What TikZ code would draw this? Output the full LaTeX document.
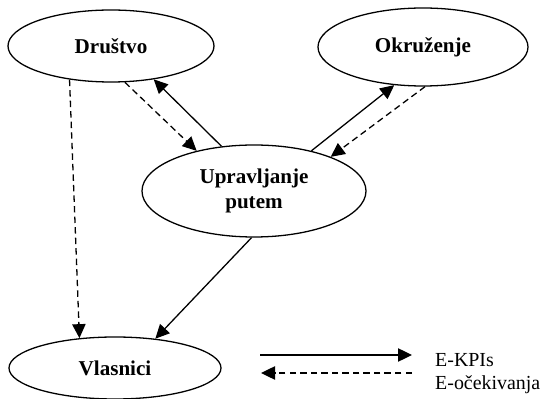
\documentclass[tikz,border=0pt]{standalone}
\usepackage{fontspec}
\setmainfont{Liberation Serif}
\usetikzlibrary{shapes.geometric,arrows.meta}

\tikzset{
  actor/.style={ellipse, draw, line width=1.1pt, inner sep=0pt, font=\fontsize{18}{21}\selectfont\bfseries, align=center},
  kpi/.style={line width=1.1pt, -{Triangle[length=4.2mm,width=4mm]}},
  expect/.style={kpi, dash pattern=on 5.5pt off 3.5pt},
  legendtext/.style={anchor=base west, inner sep=0pt, font=\fontsize{17}{20}\selectfont}
}

\begin{document}
\begin{tikzpicture}[x=0.03cm,y=-0.03cm]
\useasboundingbox (0,0) rectangle (551,399);

\node [actor, minimum width=6.18cm, minimum height=2.16cm] (drustvo) at (111,46) {Društvo};
\node [actor, minimum width=6.3cm, minimum height=2.34cm] (okruzenje) at (423,47) {Okruženje};
\node [actor, minimum width=6.72cm, minimum height=2.76cm] (upravljanje) at (254,191) {Upravljanje\\putem};
\node [actor, minimum width=6.36cm, minimum height=1.86cm] (vlasnici) at (115,368) {Vlasnici};

% E-KPIs
\draw [kpi] (upravljanje.126) -- (drustvo.-38);
\draw [kpi] (upravljanje.35) -- (okruzenje.-127);
\draw [kpi] (upravljanje.-93) -- (vlasnici.36);

% E-ocekivanja
\draw [expect] (drustvo.-69) -- (upravljanje.145);
\draw [expect] (okruzenje.-87) -- (upravljanje.24);
\draw [expect] (drustvo.-141) -- (vlasnici.140);

% legend
\coordinate (kpiA) at (260,355);
\coordinate (kpiB) at (412,355);
\coordinate (expA) at (412,373);
\coordinate (expB) at (261,373);
\draw [kpi] (kpiA) -- (kpiB);
\draw [expect] (expA) -- (expB);
\node [legendtext] (kpitext) at (435,367) {E-KPIs};
\node [legendtext] (exptext) at (435,390) {E-očekivanja};

\end{tikzpicture}
\end{document}
